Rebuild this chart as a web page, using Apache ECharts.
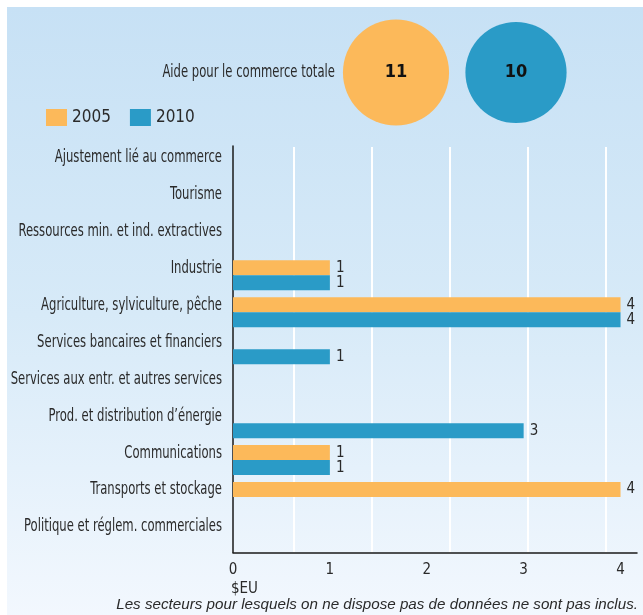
<!DOCTYPE html>
<html>
<head>
<meta charset="utf-8">
<script src="https://cdn.jsdelivr.net/npm/echarts@6/dist/echarts.min.js"></script>
<style>
  html, body { margin: 0; padding: 0; background: #fff; }
  #chart { width: 643px; height: 615px; }
</style>
</head>
<body>
<div id="chart"></div>
<script>
// sectors, top to bottom
const sectors = [
    'Ajustement lié au commerce',
    'Tourisme',
    'Ressources min. et ind. extractives',
    'Industrie',
    'Agriculture, sylviculture, pêche',
    'Services bancaires et financiers',
    'Services aux entr. et autres services',
    "Prod. et distribution d\u2019énergie",
    'Communications',
    'Transports et stockage',
    'Politique et réglem. commerciales'
];
const years = ['2005', '2010'];
const values2005 = [null, null, null, 1, 4, null, null, null, 1, 4, null];
const values2010 = [null, null, null, 1, 4, 1, null, 3, 1, null, null];
const totals = [11, 10];
const xTicks = [0, 1, 2, 3, 4];

const totalLabel = 'Aide pour le commerce totale';
const unitLabel = '$EU';
const footnote = 'Les secteurs pour lesquels on ne dispose pas de données ne sont pas inclus.';

const colors = ['#FCB95A', '#2A9BC7'];
const narrow = "'DejaVu Sans Condensed', 'DejaVu Sans', sans-serif";
const textColor = '#2a2a2a';

let chart = echarts.init(document.getElementById('chart'));

const background = {
    type: 'rect',
    z: -10,
    silent: true,
    shape: { x: 7, y: 7, width: 643, height: 615 },
    style: {
        fill: new echarts.graphic.LinearGradient(0, 0, 0, 1, [
            { offset: 0, color: '#C7E1F5' },
            { offset: 0.5, color: '#D7EAF8' },
            { offset: 1, color: '#F3F8FE' }
        ])
    }
};

function barSeries(name, data, color){
    return {
        name: name,
        type: 'bar',
        xAxisIndex: 0,
        yAxisIndex: 0,
        data: data,
        barWidth: 15,
        barGap: '0%',
        itemStyle: { color: color },
        label: {
            show: true,
            position: 'right',
            distance: 6,
            color: textColor,
            fontFamily: narrow,
            fontSize: 15
        },
        z: 3
    };
}

chart.setOption({
    animation: false,
    textStyle: { fontFamily: narrow },
    graphic: [background],
    title: [
        {
            text: unitLabel,
            left: 231,
            top: 582,
            padding: 0,
            textStyle: { fontFamily: narrow, fontSize: 15, fontWeight: 'normal', color: textColor }
        },
        {
            text: footnote,
            right: 5,
            top: 597,
            padding: 0,
            textStyle: { fontFamily: 'Liberation Sans, sans-serif', fontSize: 15.2, fontStyle: 'italic', fontWeight: 'normal', color: textColor }
        }
    ],
    legend: {
        data: years,
        left: 46,
        top: 109,
        itemWidth: 21,
        itemHeight: 17,
        itemGap: 19,
        icon: 'rect',
        padding: 0,
        textStyle: { fontFamily: narrow, fontSize: 17, color: textColor }
    },
    grid: [
        // bars
        { left: 233, right: 6, top: 146, bottom: 62.5, outerBoundsMode: 'none' },
        // white grid lines (offset from the value scale, as in the original)
        { left: 294, width: 312, top: 147, bottom: 63, outerBoundsMode: 'none' },
        // totals circles
        { left: 336, width: 240, top: 20, height: 105, outerBoundsMode: 'none' }
    ],
    xAxis: [
        {
            gridIndex: 0,
            type: 'value',
            min: 0,
            max: 4.17,
            interval: 1,
            splitLine: { show: false },
            axisTick: { show: false },
            axisLine: { show: true, lineStyle: { color: '#1a1a1a', width: 1.5 } },
            axisLabel: {
                margin: 10,
                color: textColor,
                fontFamily: narrow,
                fontSize: 15,
                formatter: function(v){ return xTicks.indexOf(v) >= 0 ? String(v) : ''; }
            }
        },
        {
            gridIndex: 1,
            type: 'value',
            min: 0,
            max: 4,
            interval: 1,
            axisLine: { show: false },
            axisTick: { show: false },
            axisLabel: { show: false },
            splitLine: { show: true, lineStyle: { color: '#ffffff', width: 2 } }
        },
        {
            gridIndex: 2,
            type: 'category',
            data: years,
            show: false
        }
    ],
    yAxis: [
        {
            gridIndex: 0,
            type: 'category',
            data: sectors,
            inverse: true,
            axisTick: { show: false },
            axisLine: { show: true, lineStyle: { color: '#1a1a1a', width: 1.5 } },
            axisLabel: { show: false }
        },
        {
            gridIndex: 1,
            type: 'value',
            show: false
        },
        {
            gridIndex: 2,
            type: 'category',
            data: [totalLabel],
            axisLine: { show: false },
            axisTick: { show: false },
            axisLabel: { show: false }
        }
    ],
    series: [
        barSeries(years[0], values2005, colors[0]),
        barSeries(years[1], values2010, colors[1]),
        {
            name: 'totals',
            type: 'scatter',
            xAxisIndex: 2,
            yAxisIndex: 2,
            data: totals.map(function(v, i){
                return { value: [i, 0, v], itemStyle: { color: colors[i], opacity: 1 } };
            }),
            symbolSize: function(val){ return 32 * Math.sqrt(val[2]); },
            label: {
                show: true,
                position: 'inside',
                formatter: function(p){ return p.value[2]; },
                color: '#111',
                fontFamily: narrow,
                fontSize: 18,
                fontWeight: 'bold'
            }
        }
    ]
});

// category labels: the original uses a condensed face, so the text is
// squeezed horizontally; positions come from the axes
function narrowText(text, x, y){
    return {
        type: 'text',
        silent: true,
        x: x,
        y: y,
        scaleX: 0.76,
        style: {
            text: text,
            fill: textColor,
            fontFamily: narrow,
            fontSize: 17,
            align: 'right',
            verticalAlign: 'middle'
        }
    };
}

let labels = [background];
let axisX = chart.convertToPixel({ xAxisIndex: 0 }, 0);
sectors.forEach(function(name, i){
    let y = chart.convertToPixel({ yAxisIndex: 0 }, i);
    labels.push(narrowText(name, axisX - 11, y - 7));
});
let circleX = chart.convertToPixel({ xAxisIndex: 2 }, 0) - 32 * Math.sqrt(totals[0]) / 2;
let circleY = chart.convertToPixel({ yAxisIndex: 2 }, 0);
labels.push(narrowText(totalLabel, circleX - 8, circleY));

chart.setOption({ graphic: labels }, { replaceMerge: ['graphic'] });
</script>
</body>
</html>
